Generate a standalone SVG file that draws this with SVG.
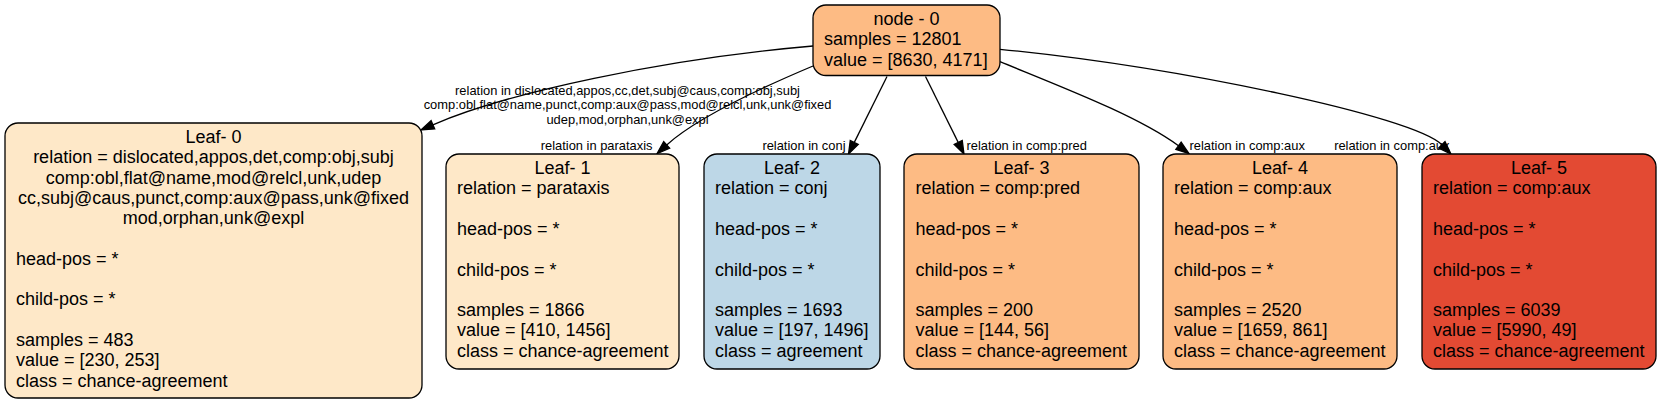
<svg xmlns="http://www.w3.org/2000/svg" width="1661" height="404" viewBox="0 0 1661 404">
<style>
  .box { stroke: #000; stroke-width: 1.3; }
  .t { font-family: "Liberation Sans", Arial, Helvetica, sans-serif; font-size: 18px; fill: #000; }
  .c { text-anchor: middle; }
  .el { font-family: "Liberation Sans", Arial, Helvetica, sans-serif; font-size: 12.9px; fill: #000; }
  .edge { fill: none; stroke: #000; stroke-width: 1.3; marker-end: url(#arrow); }
</style>
<defs>
  <marker id="arrow" markerUnits="userSpaceOnUse" markerWidth="13" markerHeight="9" viewBox="0 0 13 9" refX="0" refY="4.5" orient="auto" overflow="visible">
    <path d="M0,0 L13,4.5 L0,9 Z" fill="#000" stroke="#000" stroke-width="1.3"/>
  </marker>
</defs>
<rect width="1661" height="404" fill="#fff"/>

<g id="edges">
  <path class="edge" d="M813,46 C663,59 506,93 432.9,124.8"/>
  <path class="edge" d="M813,66 C775,82 700,115 666.7,144.9"/>
  <path class="edge" d="M887,76.5 L854.3,142.4"/>
  <path class="edge" d="M925.5,76.5 L958.2,142.4"/>
  <path class="edge" d="M1000,61.7 C1064.8,88.3 1138.2,116.2 1178.5,145.8"/>
  <path class="edge" d="M1000,49.3 C1180,67.3 1413.5,116.5 1441.8,144.8"/>
  <text class="el" text-anchor="middle" x="627.5" y="95">relation in dislocated,appos,cc,det,subj@caus,comp:obj,subj</text>
  <text class="el" text-anchor="middle" x="627.5" y="109.3">comp:obl,flat@name,punct,comp:aux@pass,mod@relcl,unk,unk@fixed</text>
  <text class="el" text-anchor="middle" x="627.5" y="123.6">udep,mod,orphan,unk@expl</text>
  <text class="el" text-anchor="end" x="652.5" y="149.5">relation in parataxis</text>
  <text class="el" text-anchor="end" x="845.5" y="149.5">relation in conj</text>
  <text class="el" x="966.5" y="149.5">relation in comp:pred</text>
  <text class="el" x="1189.5" y="149.5">relation in comp:aux</text>
  <text class="el" text-anchor="end" x="1449.5" y="149.5">relation in comp:aux</text>
</g>

<g id="node0">
  <rect class="box" x="813" y="5" width="187" height="70.5" rx="13" fill="#fdbb84"/>
  <text class="t c" x="906.5" y="25">node - 0</text>
  <text class="t" x="824" y="45.3">samples = 12801</text>
  <text class="t" x="824" y="65.6">value = [8630, 4171]</text>
</g>

<g id="leaf0">
  <rect class="box" x="5" y="123" width="417" height="275" rx="13" fill="#fee8c8"/>
  <text class="t c" x="213.5" y="143">Leaf- 0</text>
  <text class="t c" x="213.5" y="163.3">relation = dislocated,appos,det,comp:obj,subj</text>
  <text class="t c" x="213.5" y="183.6">comp:obl,flat@name,mod@relcl,unk,udep</text>
  <text class="t c" x="213.5" y="203.9">cc,subj@caus,punct,comp:aux@pass,unk@fixed</text>
  <text class="t c" x="213.5" y="224.2">mod,orphan,unk@expl</text>
  <text class="t" x="16" y="264.8">head-pos = *</text>
  <text class="t" x="16" y="305.4">child-pos = *</text>
  <text class="t" x="16" y="346">samples = 483</text>
  <text class="t" x="16" y="366.3">value = [230, 253]</text>
  <text class="t" x="16" y="386.6">class = chance-agreement</text>
</g>

<g id="leaf1">
  <rect class="box" x="446" y="154" width="233" height="215" rx="13" fill="#fee8c8"/>
  <text class="t c" x="562.5" y="174">Leaf- 1</text>
  <text class="t" x="457" y="194.3">relation = parataxis</text>
  <text class="t" x="457" y="234.9">head-pos = *</text>
  <text class="t" x="457" y="275.5">child-pos = *</text>
  <text class="t" x="457" y="316.1">samples = 1866</text>
  <text class="t" x="457" y="336.4">value = [410, 1456]</text>
  <text class="t" x="457" y="356.7">class = chance-agreement</text>
</g>

<g id="leaf2">
  <rect class="box" x="704" y="154" width="176" height="215" rx="13" fill="#bdd7e7"/>
  <text class="t c" x="792" y="174">Leaf- 2</text>
  <text class="t" x="715" y="194.3">relation = conj</text>
  <text class="t" x="715" y="234.9">head-pos = *</text>
  <text class="t" x="715" y="275.5">child-pos = *</text>
  <text class="t" x="715" y="316.1">samples = 1693</text>
  <text class="t" x="715" y="336.4">value = [197, 1496]</text>
  <text class="t" x="715" y="356.7">class = agreement</text>
</g>

<g id="leaf3">
  <rect class="box" x="904" y="154" width="235" height="215" rx="13" fill="#fdbb84"/>
  <text class="t c" x="1021.5" y="174">Leaf- 3</text>
  <text class="t" x="915.5" y="194.3">relation = comp:pred</text>
  <text class="t" x="915.5" y="234.9">head-pos = *</text>
  <text class="t" x="915.5" y="275.5">child-pos = *</text>
  <text class="t" x="915.5" y="316.1">samples = 200</text>
  <text class="t" x="915.5" y="336.4">value = [144, 56]</text>
  <text class="t" x="915.5" y="356.7">class = chance-agreement</text>
</g>

<g id="leaf4">
  <rect class="box" x="1163" y="154" width="234" height="215" rx="13" fill="#fdbb84"/>
  <text class="t c" x="1280" y="174">Leaf- 4</text>
  <text class="t" x="1174" y="194.3">relation = comp:aux</text>
  <text class="t" x="1174" y="234.9">head-pos = *</text>
  <text class="t" x="1174" y="275.5">child-pos = *</text>
  <text class="t" x="1174" y="316.1">samples = 2520</text>
  <text class="t" x="1174" y="336.4">value = [1659, 861]</text>
  <text class="t" x="1174" y="356.7">class = chance-agreement</text>
</g>

<g id="leaf5">
  <rect class="box" x="1422" y="154" width="234" height="215" rx="13" fill="#e34a33"/>
  <text class="t c" x="1539" y="174">Leaf- 5</text>
  <text class="t" x="1433" y="194.3">relation = comp:aux</text>
  <text class="t" x="1433" y="234.9">head-pos = *</text>
  <text class="t" x="1433" y="275.5">child-pos = *</text>
  <text class="t" x="1433" y="316.1">samples = 6039</text>
  <text class="t" x="1433" y="336.4">value = [5990, 49]</text>
  <text class="t" x="1433" y="356.7">class = chance-agreement</text>
</g>
</svg>
